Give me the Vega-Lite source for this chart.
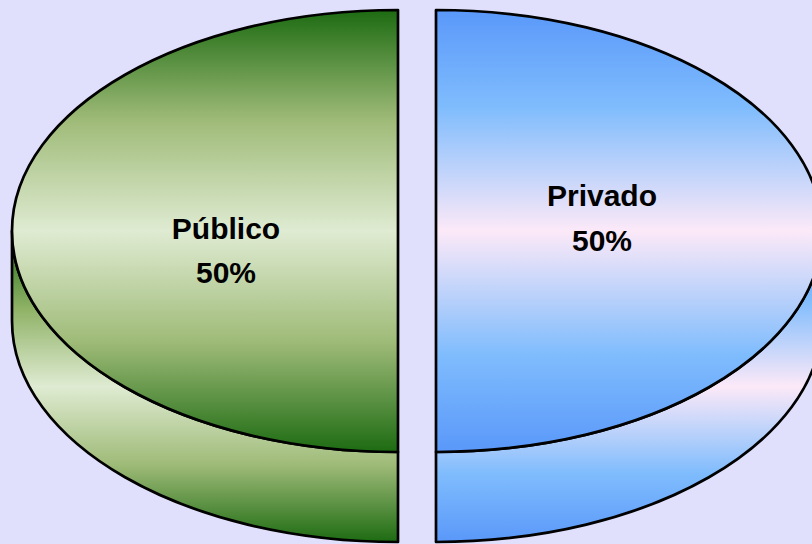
{
  "$schema": "https://vega.github.io/schema/vega-lite/v6.json",
  "width": 812,
  "height": 544,
  "autosize": {"type": "none"},
  "padding": 0,
  "background": "#e0e0fd",
  "config": {"view": {"stroke": null}},
  "data": {"values": [
    {"sector": "Público", "share": 0.5},
    {"sector": "Privado", "share": 0.5}
  ]},
  "encoding": {
    "x": {"field": "sector", "type": "nominal", "axis": null,
          "scale": {"type": "point", "padding": 0, "domain": ["Público", "Privado"], "range": [226, 602]}}
  },
  "layer": [
    {
      "transform": [{"filter": "datum.sector === 'Público'"}],
      "layer": [
        {"mark": {"type": "point", "filled": true, "size": 4, "opacity": 1, "stroke": "#000000", "strokeWidth": 2.7, "strokeJoin": "round",
          "shape": "M -214 -41 L -214 49 A 386 221 0 0 0 172 270 L 172 180 A 386 221 0 0 1 -214 -41 Z",
          "fill": {"gradient": "linear", "x1": 0, "y1": 0, "x2": 0, "y2": 1, "stops": [
            {"offset": 0, "color": "#1d6b12"}, {"offset": 0.25, "color": "#8fb266"}, {"offset": 0.5, "color": "#dfebd2"}, {"offset": 0.75, "color": "#9fbb78"}, {"offset": 1, "color": "#1d6b12"}]}},
         "encoding": {}},
        {"mark": {"type": "point", "filled": true, "size": 4, "opacity": 1, "stroke": "#000000", "strokeWidth": 2.7, "strokeJoin": "round",
          "shape": "M 172 -262 A 386 221 0 0 0 172 180 Z",
          "fill": {"gradient": "linear", "x1": 0, "y1": 0, "x2": 0, "y2": 1, "stops": [
            {"offset": 0, "color": "#1d6b12"}, {"offset": 0.25, "color": "#9fbb78"}, {"offset": 0.5, "color": "#dfebd2"}, {"offset": 0.75, "color": "#9fbb78"}, {"offset": 1, "color": "#1d6b12"}]}},
         "encoding": {}},
        {"mark": {"type": "text", "font": "Liberation Sans", "fontWeight": "bold", "fontSize": 30, "align": "center", "baseline": "alphabetic", "dy": -33, "color": "#000000"},
         "encoding": {"text": {"field": "sector", "type": "nominal"}}},
        {"mark": {"type": "text", "font": "Liberation Sans", "fontWeight": "bold", "fontSize": 30, "align": "center", "baseline": "alphabetic", "dy": 11, "color": "#000000"},
         "encoding": {"text": {"field": "share", "type": "quantitative", "format": ".0%"}}}
      ]
    },
    {
      "transform": [{"filter": "datum.sector === 'Privado'"}],
      "layer": [
        {"mark": {"type": "point", "filled": true, "size": 4, "opacity": 1, "stroke": "#000000", "strokeWidth": 2.7, "strokeJoin": "round",
          "shape": "M 220 -41 L 220 49 A 386 221 0 0 1 -166 270 L -166 180 A 386 221 0 0 0 220 -41 Z",
          "fill": {"gradient": "linear", "x1": 0, "y1": 0, "x2": 0, "y2": 1, "stops": [
            {"offset": 0, "color": "#5a98fa"}, {"offset": 0.22, "color": "#7fbcfd"}, {"offset": 0.5, "color": "#fce9f8"}, {"offset": 0.78, "color": "#7fbcfd"}, {"offset": 1, "color": "#5a98fa"}]}},
         "encoding": {}},
        {"mark": {"type": "point", "filled": true, "size": 4, "opacity": 1, "stroke": "#000000", "strokeWidth": 2.7, "strokeJoin": "round",
          "shape": "M -166 -262 A 386 221 0 0 1 -166 180 Z",
          "fill": {"gradient": "linear", "x1": 0, "y1": 0, "x2": 0, "y2": 1, "stops": [
            {"offset": 0, "color": "#5a98fa"}, {"offset": 0.22, "color": "#7fbcfd"}, {"offset": 0.5, "color": "#fce9f8"}, {"offset": 0.78, "color": "#7fbcfd"}, {"offset": 1, "color": "#5a98fa"}]}},
         "encoding": {}},
        {"mark": {"type": "text", "font": "Liberation Sans", "fontWeight": "bold", "fontSize": 30, "align": "center", "baseline": "alphabetic", "dy": -66, "color": "#000000"},
         "encoding": {"text": {"field": "sector", "type": "nominal"}}},
        {"mark": {"type": "text", "font": "Liberation Sans", "fontWeight": "bold", "fontSize": 30, "align": "center", "baseline": "alphabetic", "dy": -21, "color": "#000000"},
         "encoding": {"text": {"field": "share", "type": "quantitative", "format": ".0%"}}}
      ]
    }
  ]
}
